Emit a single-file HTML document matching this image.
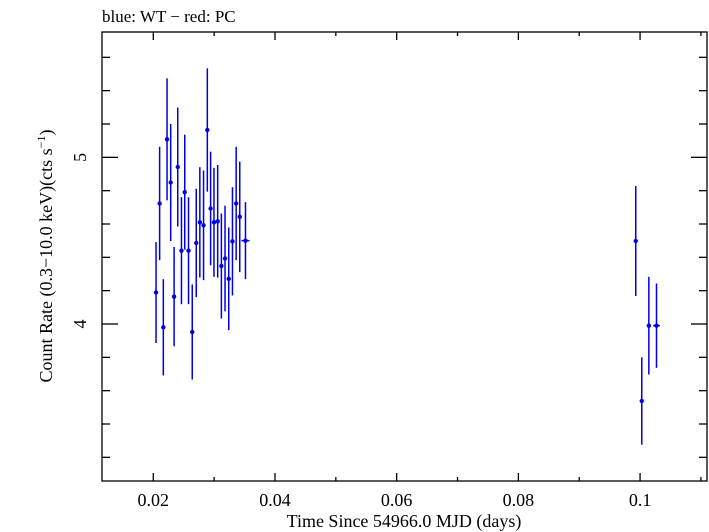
<!DOCTYPE html>
<html><head><meta charset="utf-8"><style>
html,body{margin:0;padding:0;background:#fff;}
svg{display:block;font-family:"Liberation Serif",serif;}
</style></head><body>
<svg id="chart" width="709" height="532" viewBox="0 0 709 532">
<text x="102" y="22" font-size="17" fill="#000">blue: WT − red: PC</text>
<rect x="102" y="32" width="605" height="449" fill="none" stroke="#000" stroke-width="1.3"/>
<g id="ticks"></g>
<g id="marks"></g>
<text x="404" y="527" font-size="18" text-anchor="middle">Time Since 54966.0 MJD (days)</text>
<text transform="translate(52,256) rotate(-90)" font-size="18" text-anchor="middle">Count Rate (0.3−10.0 keV)(cts s<tspan baseline-shift="super" font-size="12">−1</tspan>)</text>
</svg>
<script>
const times=[0.02045,0.02104,0.02165,0.02226,0.02286,0.02342,0.02402,0.02463,0.02517,0.02579,0.02640,0.02706,0.02765,0.02826,0.02888,0.02942,0.02997,0.03058,0.03119,0.03179,0.03240,0.03301,0.03362,0.03421,0.03515,0.09929,0.10028,0.10144,0.10270];
const rates=[4.189,4.723,3.980,5.108,4.849,4.164,4.942,4.440,4.791,4.440,3.952,4.486,4.610,4.592,5.164,4.693,4.610,4.616,4.348,4.393,4.271,4.496,4.723,4.643,4.500,4.498,3.538,3.990,3.990];
const rateErrs=[0.303,0.340,0.289,0.366,0.351,0.298,0.357,0.321,0.345,0.321,0.285,0.325,0.331,0.329,0.370,0.341,0.327,0.338,0.315,0.317,0.308,0.325,0.340,0.332,0.231,0.330,0.262,0.293,0.253];
const timeErrs=[0.00025,0.00025,0.00025,0.00025,0.00025,0.00025,0.00025,0.00025,0.00025,0.00025,0.00025,0.00025,0.00025,0.00025,0.00025,0.00025,0.00025,0.00025,0.00025,0.00025,0.00025,0.00025,0.00025,0.00025,0.00066,0.00025,0.00025,0.00025,0.00055];
const xTickLabels=["0.02","0.04","0.06","0.08","0.1"];
const xTickValues=[0.02,0.04,0.06,0.08,0.1];
const yTickLabels=["4","5"];
const yTickValues=[4,5];

const L=102,R=707,T=32,B=481;
const xMin=0.01157,xMax=0.1110,yMin=3.058,yMax=5.752;
const sx=v=>L+(v-xMin)/(xMax-xMin)*(R-L);
const sy=v=>B-(v-yMin)/(yMax-yMin)*(B-T);
const NS="http://www.w3.org/2000/svg";
function mk(tag,attrs,parent){const e=document.createElementNS(NS,tag);for(const k in attrs)e.setAttribute(k,attrs[k]);parent.appendChild(e);return e;}
const tg=document.getElementById('ticks');
const svg=document.getElementById('chart');
// x ticks
for(let v=0.015;v<=xMax+1e-9;v+=0.01){
  const isMajor=Math.abs(Math.round(v*50)-v*50)<1e-6;
}
for(let i=2;i<=11;i++){
  const v=i*0.01;const x=sx(v);const major=i%2===0;const len=major?8:4;
  const a=mk('line',{x1:x,x2:x,y1:B,y2:B-len,stroke:'#000','stroke-width':1.3},tg);
  
  
  const b=mk('line',{x1:x,x2:x,y1:T,y2:T+len,stroke:'#000','stroke-width':1.3},tg);
  
  
}
xTickValues.forEach((v,i)=>{
  const t=mk('text',{x:sx(v),y:506,'font-size':18,'text-anchor':'middle'},svg);
  t.textContent=xTickLabels[i];
  
  
});
for(let i=16;i<=28;i++){
  const v=i*0.2;if(v<yMin||v>yMax)continue;const y=sy(v);const major=i%5===0;const len=major?16:8;
  const a=mk('line',{x1:L,x2:L+len,y1:y,y2:y,stroke:'#000','stroke-width':1.3},tg);
  
  
  const b=mk('line',{x1:R,x2:R-len,y1:y,y2:y,stroke:'#000','stroke-width':1.3},tg);
  
  
}
yTickValues.forEach((v,i)=>{
  const t=mk('text',{x:0,y:0,'font-size':18,'text-anchor':'middle',transform:`translate(86,${sy(v)}) rotate(-90)`},svg);
  t.textContent=yTickLabels[i];
  
  
});
const mg=document.getElementById('marks');
times.forEach((t,i)=>{
  const g=mk('g',{},mg);
  
  
  const x=sx(t),y=sy(rates[i]);
  mk('line',{x1:x,x2:x,y1:sy(rates[i]+rateErrs[i]),y2:sy(rates[i]-rateErrs[i]),stroke:'#0000e6','stroke-width':1.5},g);
  mk('line',{x1:sx(t-timeErrs[i]),x2:sx(t+timeErrs[i]),y1:y,y2:y,stroke:'#0000e6','stroke-width':1.5},g);
  mk('circle',{cx:x,cy:y,r:2.2,fill:'#0000e6'},g);
});
</script>
</body></html>
